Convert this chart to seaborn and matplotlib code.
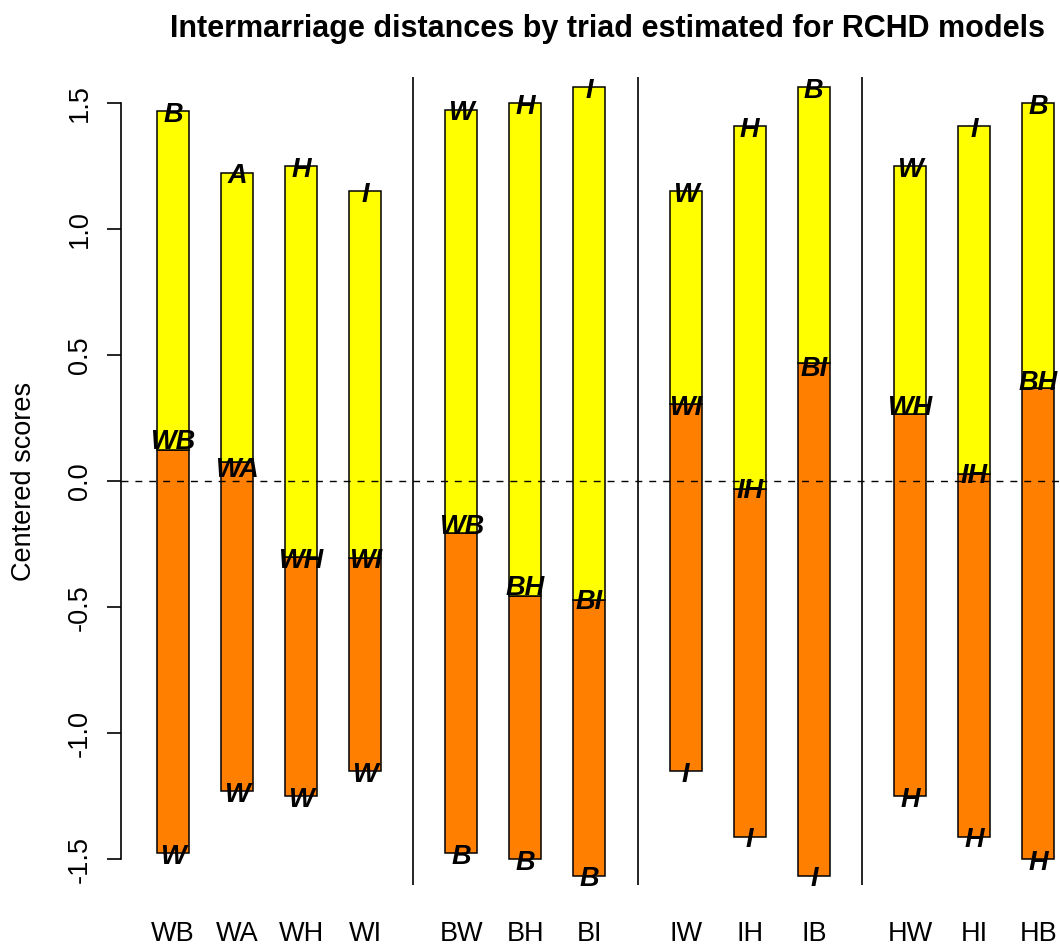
import numpy as np
import pandas as pd
import matplotlib.pyplot as plt
import seaborn as sns

# Triads, left to right
triads = ["WB", "WA", "WH", "WI", "BW", "BH", "BI", "IW", "IH", "IB", "HW", "HI", "HB"]

# Bar ends and the split point (centered scores)
top = [1.47, 1.225, 1.25, 1.15, 1.475, 1.50, 1.565, 1.15, 1.41, 1.565, 1.25, 1.41, 1.50]
mid = [0.125, 0.075, -0.30, -0.305, -0.205, -0.455, -0.47, 0.305, -0.03, 0.47, 0.265, 0.03, 0.37]
bottom = [-1.475, -1.23, -1.25, -1.15, -1.475, -1.50, -1.565, -1.15, -1.41, -1.565, -1.25, -1.41, -1.50]

# Letters written on each bar
top_lab = ["B", "A", "H", "I", "W", "H", "I", "W", "H", "B", "W", "I", "B"]
bot_lab = ["W", "W", "W", "W", "B", "B", "B", "I", "I", "I", "H", "H", "H"]
mid_lab = ["WB", "WA", "WH", "WI", "WB", "BH", "BI", "WI", "IH", "BI", "WH", "IH", "BH"]
mid_lab_y = [0.155, 0.045, -0.315, -0.315, -0.18, -0.425, -0.48, 0.29, -0.04, 0.445, 0.29, 0.02, 0.39]

# R barplot style spacing: extra gap before each group
space = [1, 1, 1, 1, 2, 1, 1, 2, 1, 1, 2, 1, 1]
left = np.cumsum(space) + np.arange(len(space))
centers = left + 0.5
separators = [9, 16, 23]

df = pd.DataFrame({"x": centers, "triad": triads, "top": top, "mid": mid, "bottom": bottom})
df["lower_h"] = df["mid"] - df["bottom"]
df["upper_h"] = df["top"] - df["mid"]

sns.set_style("white")
plt.rcParams["font.family"] = ["Liberation Sans", "DejaVu Sans"]
plt.rcParams["axes.unicode_minus"] = False
for k in ["text.color", "axes.labelcolor", "xtick.color", "ytick.color"]:
    plt.rcParams[k] = "black"

fig = plt.figure(figsize=(10.6, 9.5), dpi=100)
ax = fig.add_axes([121 / 1060, 65 / 950, 969 / 1060, 808 / 950])

orange = "#FF7F00"
yellow = "#FFFF00"

sns.barplot(data=df, x="x", y="lower_h", orient="x", native_scale=True, width=0.5,
            color=orange, saturation=1, edgecolor="black", linewidth=1.1,
            errorbar=None, bottom=df["bottom"].values, ax=ax)
sns.barplot(data=df, x="x", y="upper_h", orient="x", native_scale=True, width=0.5,
            color=yellow, saturation=1, edgecolor="black", linewidth=1.1,
            errorbar=None, bottom=df["mid"].values, ax=ax)

for xs in separators:
    ax.axvline(xs, color="black", lw=1.2)
ax.axhline(0, color="black", lw=1.0, dashes=(5, 5))

fs = 19.5
lab_kw = dict(ha="center", va="center", fontsize=fs, fontweight="bold", fontstyle="italic")
off = 0.015
for i, row in df.iterrows():
    ax.text(row["x"], row["top"] - off, top_lab[i], **lab_kw)
    ax.text(row["x"], mid_lab_y[i], mid_lab[i], **lab_kw)
    ax.text(row["x"], row["bottom"] - off, bot_lab[i], **lab_kw)

ax.set_xlim(-0.12, 30.12)
ax.set_ylim(-1.602, 1.604)

ax.set_xticks(centers)
ax.set_xticklabels(triads, fontsize=fs)
ax.tick_params(axis="x", length=0, pad=26)

yt = [-1.5, -1.0, -0.5, 0.0, 0.5, 1.0, 1.5]
ax.set_yticks(yt)
ax.set_yticklabels([f"{v:.1f}" for v in yt], fontsize=fs, rotation=90, va="center")
ax.tick_params(axis="y", length=10, width=1.2, pad=10, left=True, direction="out")

for s in ["top", "right", "bottom"]:
    ax.spines[s].set_visible(False)
ax.spines["left"].set_bounds(-1.5, 1.5)
ax.spines["left"].set_linewidth(1.2)
ax.spines["left"].set_color("black")

ax.set_xlabel("")
ax.set_ylabel("Centered scores", fontsize=fs)
ax.yaxis.set_label_coords(-(121 - 37) / 969, 0.5)

fig.text(607 / 1060, 1 - 29 / 950, "Intermarriage distances by triad estimated for RCHD models",
         ha="center", va="center", fontsize=22, fontweight="bold")

fig.savefig("out.png", dpi=100)
